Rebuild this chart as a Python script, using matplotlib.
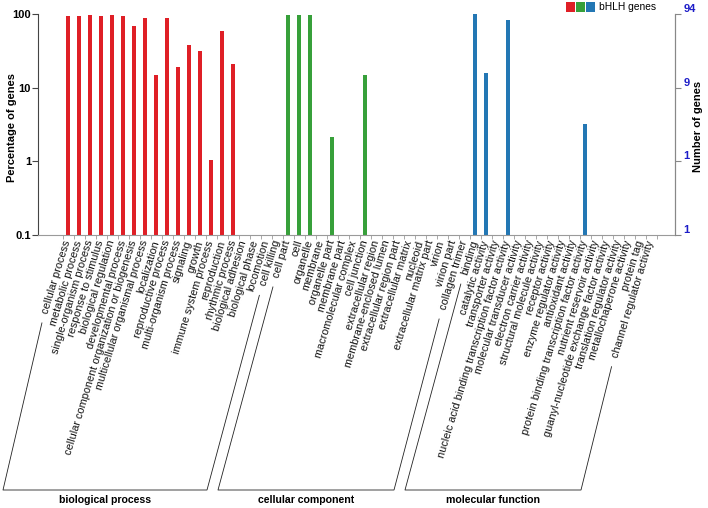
import numpy as np
import matplotlib
matplotlib.use('Agg')
import matplotlib.pyplot as plt
from matplotlib.patches import Rectangle
from matplotlib.lines import Line2D
from matplotlib.ticker import NullLocator, FixedLocator

plt.rcParams['font.family'] = ['Liberation Sans', 'DejaVu Sans']

# GO terms and percentage of bHLH genes per term
bp_terms = ['cellular process', 'metabolic process', 'single-organism process',
            'response to stimulus', 'biological regulation', 'developmental process',
            'cellular component organization or biogenesis', 'multicellular organismal process',
            'localization', 'reproductive process', 'multi-organism process', 'signaling',
            'growth', 'immune system process', 'reproduction', 'rhythmic process',
            'biological adhesion', 'biological phase', 'locomotion', 'cell killing']
bp_pct = [95.7, 93.6, 97.9, 95.7, 97.9, 93.6, 70.2, 88.3, 14.9, 88.3,
          19.1, 38.3, 31.9, 1.06, 58.5, 21.3, 0, 0, 0, 0]

cc_terms = ['cell part', 'cell', 'organelle', 'membrane', 'organelle part', 'membrane part',
            'macromolecular complex', 'cell junction', 'extracellular region',
            'membrane-enclosed lumen', 'extracellular region part', 'extracellular matrix',
            'nucleoid', 'extracellular matrix part', 'virion', 'virion part', 'collagen trimer']
cc_pct = [97.9, 97.9, 97.9, 0, 2.13, 0, 0, 14.9, 0, 0, 0, 0, 0, 0, 0, 0, 0]

mf_terms = ['binding', 'catalytic activity', 'transporter activity',
            'nucleic acid binding transcription factor activity', 'molecular transducer activity',
            'electron carrier activity', 'structural molecule activity', 'receptor activity',
            'enzyme regulator activity', 'antioxidant activity',
            'protein binding transcription factor activity', 'nutrient reservoir activity',
            'guanyl-nucleotide exchange factor activity', 'translation regulator activity',
            'metallochaperone activity', 'protein tag', 'channel regulator activity']
mf_pct = [100, 16.0, 0, 84.0, 0, 0, 0, 0, 0, 0, 3.19, 0, 0, 0, 0, 0, 0]

group_names = ['biological process', 'cellular component', 'molecular function']
group_colors = ['#df1f26', '#37a03a', '#2377b4']
left_ticks = [0.1, 1, 10, 100]
left_tick_labels = ['0.1', '1', '10', '100']
right_tick_labels = ['1', '1', '9', '94']
legend_label = 'bHLH genes'

W, H = 708, 508
fig = plt.figure(figsize=(W / 100, H / 100), dpi=100)

# axes box in pixels (from top-left)
ax_l, ax_r, ax_t, ax_b = 38, 675, 14.3, 235
ax = fig.add_axes([ax_l / W, 1 - ax_b / H, (ax_r - ax_l) / W, (ax_b - ax_t) / H])

groups = [(bp_terms, bp_pct), (cc_terms, cc_pct), (mf_terms, mf_pct)]
terms = bp_terms + cc_terms + mf_terms
x = np.arange(len(terms))

ax.set_yscale('log')
start = 0
group_ranges = []
for (g_terms, g_pct), col in zip(groups, group_colors):
    gx = x[start:start + len(g_terms)]
    gv = np.array(g_pct, dtype=float)
    keep = gv > 0
    ax.bar(gx[keep], gv[keep], width=0.42, color=col, linewidth=0)
    group_ranges.append((gx[0], gx[-1]))
    start += len(g_terms)

# first category sits 30 px right of the axis, 11 px per category
unit = 11.0
x0 = -(68 - ax_l) / unit
ax.set_xlim(x0, x0 + (ax_r - ax_l) / unit)
ax.set_ylim(0.1, 100)

ax.spines['top'].set_visible(False)
ax.spines['left'].set_color('#444444')
ax.spines['bottom'].set_color('#9a9a9a')
ax.spines['right'].set_color('#888888')

ax.set_yticks(left_ticks, left_tick_labels)
ax.yaxis.set_minor_locator(NullLocator())
ax.tick_params(axis='y', length=4, width=0.8, color='#444444', pad=1,
               labelsize=8)
for t in ax.get_yticklabels():
    t.set_fontweight('bold')

ax.set_xticks(x)
ax.set_xticklabels(terms, rotation=73, ha='right', va='center',
                   rotation_mode='anchor', fontsize=7.8, color='#111111')
ax.xaxis.set_minor_locator(FixedLocator(np.arange(len(terms) + 1) - 0.5))
ax.tick_params(axis='x', which='major', length=0, pad=4)
ax.tick_params(axis='x', which='minor', length=3, width=0.6, color='#9a9a9a')

ax2 = ax.twinx()
ax2.set_yscale('log')
ax2.set_ylim(0.1, 100)
for s in ['top', 'left', 'bottom']:
    ax2.spines[s].set_visible(False)
ax2.spines['right'].set_color('#888888')
ax2.set_yticks(left_ticks, right_tick_labels)
ax2.yaxis.set_minor_locator(NullLocator())
ax2.tick_params(axis='y', length=4, width=0.8, color='#888888', pad=2,
                labelsize=8, labelcolor='#1c1cc8')
for t in ax2.get_yticklabels():
    t.set_fontweight('bold')
    t.set_va('bottom')

fig.text(12 / W, 1 - 127 / H, 'Percentage of genes', rotation=90, ha='center',
         va='center', fontsize=8, fontweight='bold')
fig.text(698 / W, 1 - 126 / H, 'Number of genes', rotation=90, ha='center',
         va='center', fontsize=8, fontweight='bold')

# legend: three colour squares + label
for k, col in enumerate(group_colors):
    fig.add_artist(Rectangle(((566 + 10 * k) / W, 1 - 12 / H), 9.4 / W, 9.8 / H,
                             transform=fig.transFigure, color=col, lw=0))
fig.text(599 / W, 1 - 7 / H, legend_label, ha='left', va='center', fontsize=7.4)

# group brackets under the rotated labels
fig.canvas.draw()
renderer = fig.canvas.get_renderer()
labels = ax.get_xticklabels()
bottom_y = 18  # display px from bottom
for (a, b), name in zip(group_ranges, group_names):
    corners = []
    tops = []
    for idx in (a, b):
        px = ax.transData.transform((idx, 1))[0]
        cx = max(px - 70, 3)
        bb = labels[idx].get_window_extent(renderer)
        corners.append(cx)
        tops.append((bb.x0 + 1, bb.y0 - 8))
    xs = [tops[0][0], corners[0], corners[1], tops[1][0]]
    ys = [tops[0][1], bottom_y, bottom_y, tops[1][1]]
    fig.add_artist(Line2D(np.array(xs) / W, np.array(ys) / H, transform=fig.transFigure,
                          color='#222222', lw=0.6))
    fig.text((corners[0] + corners[1]) / 2 / W, 8 / H, name, ha='center', va='center',
             fontsize=7.6, fontweight='bold')

fig.savefig('out.png', dpi=100)
